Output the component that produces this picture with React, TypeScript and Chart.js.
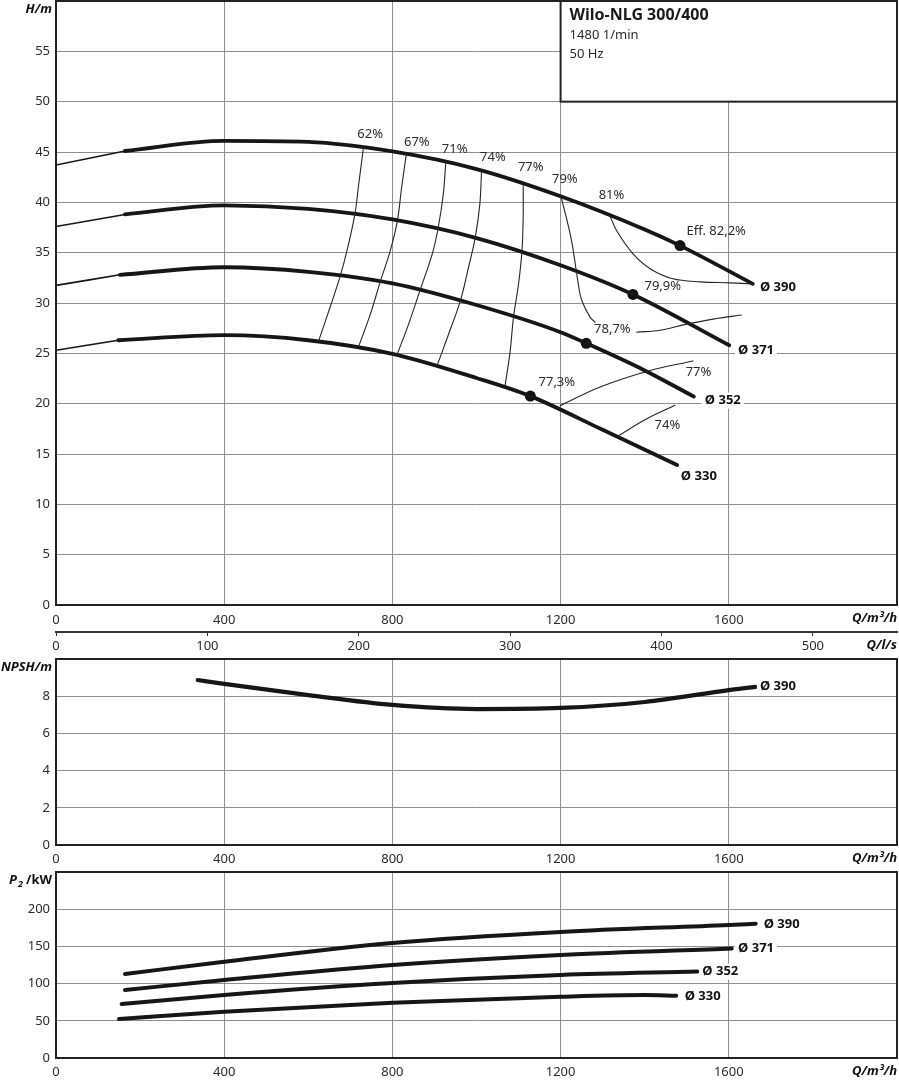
import React, { useEffect, useRef } from 'react';
import { Chart, registerables } from 'chart.js';

Chart.register(...registerables);

// ---------------- data ----------------
const Q_MAX = 2000; // m³/h
const QLS_MAX = Q_MAX / 3.6; // l/s
const Q_TICKS = [0, 400, 800, 1200, 1600];
const QLS_TICKS = [0, 100, 200, 300, 400, 500];

// Head curves H(Q), thin start part + thick part
const H390_THIN_Q = [0, 164];
const H390_THIN_H = [43.7, 45.1];
const H390_Q = [164, 400, 600, 800, 1000, 1200, 1400, 1484, 1657];
const H390_H = [45.1, 46.1, 46.0, 45.05, 43.3, 40.6, 37.3, 35.7, 31.9];

const H371_THIN_Q = [0, 164];
const H371_THIN_H = [37.6, 38.8];
const H371_Q = [164, 400, 600, 800, 1000, 1200, 1372, 1601];
const H371_H = [38.8, 39.7, 39.35, 38.3, 36.45, 33.75, 30.85, 25.8];

const H352_THIN_Q = [0, 152];
const H352_THIN_H = [31.75, 32.8];
const H352_Q = [152, 400, 600, 800, 1000, 1200, 1261, 1400, 1517];
const H352_H = [32.8, 33.55, 33.1, 31.95, 29.8, 27.1, 26.0, 23.3, 20.7];

const H330_THIN_Q = [0, 148];
const H330_THIN_H = [25.3, 26.3];
const H330_Q = [148, 400, 600, 800, 1000, 1128, 1300, 1477];
const H330_H = [26.3, 26.8, 26.3, 24.95, 22.55, 20.75, 17.4, 13.9];

// Best efficiency points
const BEP_Q = [1484, 1372, 1261, 1128];
const BEP_H = [35.7, 30.85, 26.0, 20.75];
const BEP_LABELS = ['Eff. 82,2%', '79,9%', '78,7%', '77,3%'];
const BEP_LABEL_Q = [1570, 1443, 1323, 1191];
const BEP_LABEL_H = [37.1, 31.65, 27.4, 22.15];

// Iso-efficiency lines
const E62_Q = [731, 719, 711, 692, 676, 652, 625];
const E62_H = [45.4, 41.5, 38.86, 35.2, 32.7, 29.6, 26.29];
const E67_Q = [833, 822, 812, 795, 771, 748, 720];
const E67_H = [44.76, 41.5, 38.2, 35.2, 32.1, 28.94, 25.7];
const E71_Q = [927, 921, 909, 895, 866, 839, 811];
const E71_H = [44.0, 40.8, 37.5, 34.9, 31.3, 27.95, 24.85];
const E74_Q = [1012, 1008, 997, 981, 962, 934, 906];
const E74_H = [43.14, 39.85, 36.5, 33.55, 30.26, 26.95, 23.75];
const E77_Q = [1111, 1111, 1108, 1100, 1088, 1080, 1068];
const E77_H = [41.8, 38.5, 35.1, 31.9, 28.6, 25.2, 21.8];
const E79_Q = [1201, 1226, 1242, 1250, 1270, 1282];
const E79_H = [40.6, 36.2, 31.9, 30.3, 28.6, 28.1];
const E79B_Q = [1381, 1436, 1500, 1563, 1630];
const E79B_H = [27.1, 27.3, 27.9, 28.4, 28.8];
const E81_Q = [1317, 1333, 1372, 1413, 1467, 1532, 1603, 1657];
const E81_H = [38.7, 37.2, 34.9, 33.4, 32.4, 32.1, 32.0, 31.9];
const E77L_Q = [1199, 1294, 1413, 1515];
const E77L_H = [19.8, 21.66, 23.3, 24.24];
const E74L_Q = [1337, 1405, 1472];
const E74L_H = [16.8, 18.5, 19.84];

const EFF_LABELS = ['62%', '67%', '71%', '74%', '77%', '79%', '81%', '77%', '74%'];
const EFF_LABEL_Q = [747, 858, 948, 1039, 1129, 1210, 1321, 1528, 1454];
const EFF_LABEL_H = [46.8, 46.0, 45.3, 44.5, 43.5, 42.3, 40.7, 23.1, 17.9];

const DIAMETERS = ['Ø 390', 'Ø 371', 'Ø 352', 'Ø 330'];
const H_DIA_LABEL_Q = [1674, 1622, 1543, 1486];
const H_DIA_LABEL_H = [31.6, 25.3, 20.3, 12.8];

// NPSH
const NPSH_Q = [337, 400, 600, 800, 1000, 1200, 1400, 1600, 1663];
const NPSH_V = [8.87, 8.66, 8.06, 7.53, 7.31, 7.37, 7.69, 8.33, 8.5];
const NPSH_LABEL_Q = [1674];
const NPSH_LABEL_V = [8.55];

// P2
const P390_Q = [164, 400, 800, 1200, 1600, 1664];
const P390_V = [112.9, 129.4, 154.6, 169.4, 178.8, 180.5];
const P371_Q = [164, 400, 800, 1200, 1607];
const P371_V = [91.4, 104.8, 125, 138.4, 147.2];
const P352_Q = [156, 400, 800, 1200, 1525];
const P352_V = [72.6, 84.7, 100.8, 111.6, 116.2];
const P330_Q = [150, 400, 800, 1200, 1400, 1475];
const P330_V = [52.4, 62.2, 74.3, 82.4, 84.7, 83.6];
const P_DIA_LABEL_Q = [1683, 1622, 1537, 1495];
const P_DIA_LABEL_V = [180, 147.4, 116, 82.4];

// ---------------- styles ----------------
const FONT = '"Noto Sans", "DejaVu Sans", sans-serif';
const INK = '#161616';
const TXT = '#2b2b2b';
const GRID = '#8f8f8f';
const FRAME = '#222';

Chart.defaults.font.family = FONT;
Chart.defaults.font.size = 13;
Chart.defaults.color = TXT;

const pts = (qs: number[], vs: number[]) => qs.map((q, i) => ({ x: q, y: vs[i] }));

function curve(qs: number[], vs: number[], width: number): any {
  return {
    data: pts(qs, vs),
    showLine: true,
    borderColor: INK,
    backgroundColor: INK,
    borderWidth: width,
    pointRadius: 0,
    pointHoverRadius: 0,
    fill: false,
    cubicInterpolationMode: 'monotone',
    borderCapStyle: 'round',
    borderJoinStyle: 'round',
  };
}
function contour(qs: number[], vs: number[]): any {
  return { ...curve(qs, vs, 1.1), cubicInterpolationMode: 'default', tension: 0.35, borderColor: '#262626' };
}

function drawText(ctx: CanvasRenderingContext2D, t: string, x: number, y: number, o: any = {}) {
  const size = o.size ?? 13;
  ctx.save();
  ctx.font = `${o.italic ? 'italic ' : ''}${o.bold ? 'bold ' : ''}${size}px ${FONT}`;
  ctx.textAlign = o.align ?? 'left';
  ctx.textBaseline = 'middle';
  if (o.bg) {
    const w = ctx.measureText(t).width;
    const x0 = ctx.textAlign === 'left' ? x : ctx.textAlign === 'right' ? x - w : x - w / 2;
    ctx.fillStyle = '#fff';
    ctx.fillRect(x0 - 3, y - size * 0.62, w + 6, size * 1.24);
  }
  ctx.fillStyle = o.color ?? TXT;
  ctx.fillText(t, x, y);
  ctx.restore();
}

function drawFrame(chart: any) {
  const { ctx, chartArea: a } = chart;
  ctx.save();
  ctx.strokeStyle = FRAME;
  ctx.lineWidth = 2;
  ctx.strokeRect(a.left, a.top, a.right - a.left, a.bottom - a.top);
  ctx.restore();
}

const plainNum = (v: any) => String(v);

function xAxis(height: number, padding: number): any {
  return {
    type: 'linear',
    position: 'bottom',
    weight: 0,
    min: 0,
    max: Q_MAX,
    afterBuildTicks: (s: any) => {
      s.ticks = Q_TICKS.map((v) => ({ value: v }));
    },
    ticks: { padding, maxRotation: 0, autoSkip: false, color: TXT, font: { size: 13 }, callback: plainNum },
    grid: { color: GRID, lineWidth: 1, drawTicks: false },
    border: { display: false },
    afterFit: (s: any) => {
      s.height = height;
      s.paddingLeft = 0;
      s.paddingRight = 0;
    },
  };
}

function yAxis(max: number, step: number): any {
  return {
    type: 'linear',
    min: 0,
    max,
    ticks: {
      stepSize: step,
      padding: 6,
      color: TXT,
      font: { size: 13 },
      callback: (v: number) => (v === max ? '' : String(v)),
    },
    grid: { color: GRID, lineWidth: 1, drawTicks: false },
    border: { display: false },
    afterFit: (s: any) => {
      s.width = 56;
      s.paddingTop = 0;
      s.paddingBottom = 0;
    },
  };
}

const baseOptions = (scales: any, top: number): any => ({
  responsive: false,
  animation: false,
  devicePixelRatio: 1,
  events: [],
  layout: { autoPadding: false, padding: { top, right: 2, left: 0, bottom: 0 } },
  plugins: { legend: { display: false }, tooltip: { enabled: false } },
  scales,
});

export default function App() {
  const r1 = useRef<HTMLCanvasElement>(null);
  const r2 = useRef<HTMLCanvasElement>(null);
  const r3 = useRef<HTMLCanvasElement>(null);

  useEffect(() => {
    // ---------- H chart ----------
    const headPlugin = {
      id: 'headAnno',
      afterDraw(chart: any) {
        const { ctx, scales } = chart;
        const xs = scales.x;
        const ys = scales.y;
        const a = chart.chartArea;
        drawFrame(chart);
        // info box
        const bx = xs.getPixelForValue(1200);
        const by0 = ys.getPixelForValue(60);
        const by1 = ys.getPixelForValue(50);
        ctx.save();
        ctx.fillStyle = '#fff';
        ctx.fillRect(bx, by0, a.right - bx, by1 - by0);
        ctx.strokeStyle = FRAME;
        ctx.lineWidth = 2;
        ctx.strokeRect(bx, by0, a.right - bx, by1 - by0);
        ctx.restore();
        drawText(ctx, 'Wilo-NLG 300/400', bx + 9, by0 + 14, { bold: true, size: 16, color: '#1a1a1a' });
        drawText(ctx, '1480 1/min', bx + 9, by0 + 34, { size: 13 });
        drawText(ctx, '50 Hz', bx + 9, by0 + 53, { size: 13 });
        // efficiency labels
        EFF_LABELS.forEach((t, i) =>
          drawText(ctx, t, xs.getPixelForValue(EFF_LABEL_Q[i]), ys.getPixelForValue(EFF_LABEL_H[i]), { align: 'center' })
        );
        BEP_LABELS.forEach((t, i) =>
          drawText(ctx, t, xs.getPixelForValue(BEP_LABEL_Q[i]), ys.getPixelForValue(BEP_LABEL_H[i]), { align: 'center' })
        );
        DIAMETERS.forEach((t, i) =>
          drawText(ctx, t, xs.getPixelForValue(H_DIA_LABEL_Q[i]), ys.getPixelForValue(H_DIA_LABEL_H[i]), {
            bold: true,
            bg: true,
            color: '#111',
          })
        );
        // axis titles
        drawText(ctx, 'H/m', 52, 9, { align: 'right', bold: true, italic: true, color: '#111' });
        drawText(ctx, 'Q/m³/h', a.right, a.bottom + 13, { align: 'right', bold: true, italic: true, color: '#111' });
        drawText(ctx, 'Q/l/s', a.right, a.bottom + 40, { align: 'right', bold: true, italic: true, color: '#111' });
      },
    };

    const c1 = new Chart(r1.current!, {
      type: 'scatter',
      data: {
        datasets: [
          contour(E62_Q, E62_H),
          contour(E67_Q, E67_H),
          contour(E71_Q, E71_H),
          contour(E74_Q, E74_H),
          contour(E77_Q, E77_H),
          contour(E79_Q, E79_H),
          contour(E79B_Q, E79B_H),
          contour(E81_Q, E81_H),
          contour(E77L_Q, E77L_H),
          contour(E74L_Q, E74L_H),
          curve(H390_THIN_Q, H390_THIN_H, 1.6),
          curve(H371_THIN_Q, H371_THIN_H, 1.6),
          curve(H352_THIN_Q, H352_THIN_H, 1.6),
          curve(H330_THIN_Q, H330_THIN_H, 1.6),
          curve(H390_Q, H390_H, 3.8),
          curve(H371_Q, H371_H, 3.8),
          curve(H352_Q, H352_H, 3.8),
          curve(H330_Q, H330_H, 3.8),
          {
            data: pts(BEP_Q, BEP_H),
            showLine: false,
            pointRadius: 5.5,
            pointHoverRadius: 5.5,
            pointBackgroundColor: '#111',
            pointBorderColor: '#111',
            pointBorderWidth: 0,
          },
        ],
      },
      options: baseOptions(
        {
          x: xAxis(27, 7),
          x2: {
            type: 'linear',
            position: 'bottom',
            weight: 1,
            min: 0,
            max: QLS_MAX,
            afterBuildTicks: (s: any) => {
              s.ticks = QLS_TICKS.map((v) => ({ value: v }));
            },
            ticks: { padding: 2, maxRotation: 0, autoSkip: false, color: TXT, font: { size: 13 }, callback: plainNum },
            grid: { drawOnChartArea: false, drawTicks: true, tickLength: 4, color: '#333', lineWidth: 1 },
            border: { display: true, color: '#333', width: 2 },
            afterFit: (s: any) => {
              s.height = 24;
              s.paddingLeft = 0;
              s.paddingRight = 0;
            },
          },
          y: yAxis(60, 5),
        },
        1
      ),
      plugins: [headPlugin],
    });

    // ---------- NPSH chart ----------
    const npshPlugin = {
      id: 'npshAnno',
      afterDraw(chart: any) {
        const { ctx, scales } = chart;
        const a = chart.chartArea;
        drawFrame(chart);
        drawText(ctx, 'Ø 390', scales.x.getPixelForValue(NPSH_LABEL_Q[0]), scales.y.getPixelForValue(NPSH_LABEL_V[0]), {
          bold: true,
          bg: true,
          color: '#111',
        });
        drawText(ctx, 'NPSH/m', 52, a.top + 8, { align: 'right', bold: true, italic: true, color: '#111' });
        drawText(ctx, 'Q/m³/h', a.right, a.bottom + 13, { align: 'right', bold: true, italic: true, color: '#111' });
      },
    };
    const c2 = new Chart(r2.current!, {
      type: 'scatter',
      data: { datasets: [curve(NPSH_Q, NPSH_V, 4.2)] },
      options: baseOptions({ x: xAxis(21, 6), y: yAxis(10, 2) }, 3),
      plugins: [npshPlugin],
    });

    // ---------- P2 chart ----------
    const p2Plugin = {
      id: 'p2Anno',
      afterDraw(chart: any) {
        const { ctx, scales } = chart;
        const a = chart.chartArea;
        drawFrame(chart);
        DIAMETERS.forEach((t, i) =>
          drawText(ctx, t, scales.x.getPixelForValue(P_DIA_LABEL_Q[i]), scales.y.getPixelForValue(P_DIA_LABEL_V[i]), {
            bold: true,
            bg: true,
            color: '#111',
          })
        );
        drawText(ctx, 'P', 9, a.top + 8, { bold: true, italic: true, color: '#111' });
        drawText(ctx, '2', 18, a.top + 12, { bold: true, italic: true, size: 9, color: '#111' });
        drawText(ctx, '/kW', 26, a.top + 8, { bold: true, color: '#111' });
        drawText(ctx, 'Q/m³/h', a.right, a.bottom + 13, { align: 'right', bold: true, italic: true, color: '#111' });
      },
    };
    const c3 = new Chart(r3.current!, {
      type: 'scatter',
      data: {
        datasets: [
          curve(P390_Q, P390_V, 4),
          curve(P371_Q, P371_V, 4),
          curve(P352_Q, P352_V, 4),
          curve(P330_Q, P330_V, 4),
        ],
      },
      options: baseOptions({ x: xAxis(22, 6), y: yAxis(250, 50) }, 6),
      plugins: [p2Plugin],
    });

    return () => {
      c1.destroy();
      c2.destroy();
      c3.destroy();
    };
  }, []);

  const cv = (top: number, h: number): React.CSSProperties => ({
    position: 'absolute',
    left: 0,
    top,
    width: 899,
    height: h,
    display: 'block',
  });

  return (
    <div style={{ position: 'absolute', left: 0, top: 0, width: 899, height: 1080, background: '#fff' }}>
      <canvas ref={r1} width={899} height={656} style={cv(0, 656)} />
      <canvas ref={r2} width={899} height={210} style={cv(656, 210)} />
      <canvas ref={r3} width={899} height={214} style={cv(866, 214)} />
    </div>
  );
}
